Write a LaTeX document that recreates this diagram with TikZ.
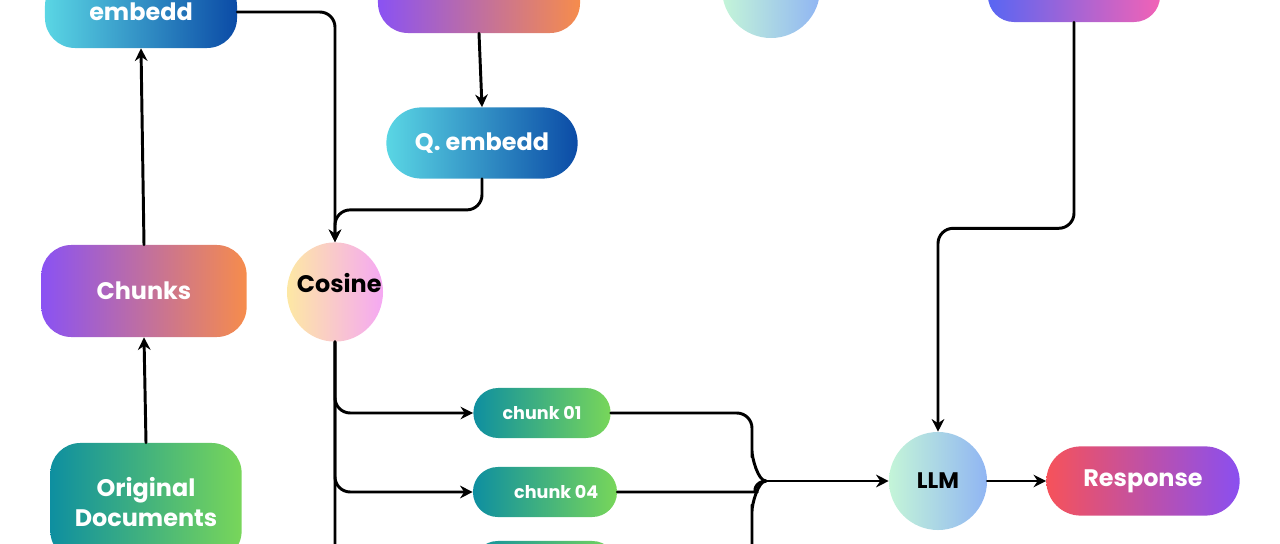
\documentclass[tikz,border=0pt]{standalone}
\usepackage{fontspec}
\setmainfont{Poppins}
\usetikzlibrary{arrows.meta,shapes.geometric}
\definecolor{cyanL}{HTML}{5AD6E4}
\definecolor{blueD}{HTML}{0B4BA6}
\definecolor{purL}{HTML}{8A52F3}
\definecolor{orgR}{HTML}{F68C4C}
\definecolor{tealL}{HTML}{0E8FA0}
\definecolor{grnR}{HTML}{78D65A}
\definecolor{yelL}{HTML}{FDE8A4}
\definecolor{pinkR}{HTML}{F5A8F3}
\definecolor{mintL}{HTML}{C4F5D8}
\definecolor{skyR}{HTML}{90B5F3}
\definecolor{redL}{HTML}{F6525A}
\definecolor{vioR}{HTML}{8A4FF0}
\definecolor{indL}{HTML}{5866F3}
\definecolor{magR}{HTML}{F262B6}
\begin{document}
\begin{tikzpicture}[x=0.025cm, y=-0.025cm, line join=round, line cap=round, >={Stealth[length=9pt,width=9pt,inset=3pt]},
    box/.style={rectangle, rounded corners=0.75cm, text=white, align=center, inner sep=0pt, font=\bfseries\fontsize{17}{22}\selectfont},
    chk/.style={box, rounded corners=0.62cm, minimum height=1.25cm, left color=tealL, right color=grnR, font=\bfseries\fontsize{12.5}{15}\selectfont},
    ell/.style={ellipse, inner sep=0pt, font=\bfseries\fontsize{17}{20}\selectfont},
    blu/.style={left color=cyanL, right color=blueD},
    pur/.style={left color=purL, right color=orgR},
    grn/.style={left color=tealL, right color=grnR},
    mnt/.style={left color=mintL, right color=skyR},
    line/.style={line width=2.1pt, rounded corners=0.38cm},
    conn/.style={line, ->}]
    \useasboundingbox (0,0) rectangle (1280,544);
    \node[box, blu, minimum width=4.8cm, minimum height=1.8cm] (emb) at (141,12) {embedd};
    \node[box, pur, minimum width=5.05cm, minimum height=2cm] (qsrc) at (479,-7) {};
    \node[ell, mnt, minimum width=2.45cm, minimum height=2.45cm] (vec) at (771,-11) {};
    \node[box, left color=indL, right color=magR, minimum width=4.3cm, minimum height=2cm, rounded corners=0.65cm] (qry) at (1074,-18) {};
    \node[box, blu, minimum width=4.78cm, minimum height=1.78cm, rounded corners=0.88cm] (qemb) at (482,143) {Q. embedd};
    \node[box, pur, minimum width=5.13cm, minimum height=2.3cm] (chunks) at (144,291) {Chunks};
    \node[box, grn, minimum width=4.78cm, minimum height=2.95cm] (orig) at (146,502) {Original\\Documents};
    \node[ell, left color=yelL, right color=pinkR, minimum width=2.4cm, minimum height=2.48cm] (cos) at (335,292)
        {\makebox[0pt]{\hspace{6pt}\raisebox{0pt}[0pt][0pt]{Cosine}}};
    \node[ell, mnt, minimum width=2.45cm, minimum height=2.45cm, font=\bfseries\fontsize{16}{20}\selectfont] (llm) at (938,481) {LLM};
    \node[box, left color=redL, right color=vioR, minimum width=4.83cm, minimum height=1.73cm, rounded corners=0.86cm] (resp) at (1143,481) {Response};
    \node[chk, minimum width=3.43cm] (c1) at (542,413) {chunk 01};
    \node[chk, minimum width=3.6cm] (c4) at (545,492) {\hspace{16pt}chunk 04};
    \node[chk, minimum width=3.6cm] (c3) at (545,566) {};
    \coordinate (bus) at (766,481);
    \draw[conn] (orig.north) -- (chunks.south);
    \draw[conn] (chunks.north) -- (emb.south);
    \draw[conn] (emb.east) -| (cos.north);
    \draw[conn] (qsrc.south) -- (qemb.north);
    \draw[conn] (qemb.south) -- ++(0,31) -| (cos.north);
    \draw[conn] (cos.south) |- (c1.west);
    \draw[conn] (cos.south) |- (c4.west);
    \draw[conn] (cos.south) |- (c3.west);
    \draw[line] (c1.east) -| (752,466) to[out=90,in=180] (bus);
    \draw[line] (c4.east) -- (742,492) to[out=0,in=180] (bus);
    \draw[line] (c3.east) -| (752,496) to[out=-90,in=180] (bus);
    \draw[conn] (bus) -- (llm.west);
    \draw[conn] (llm.east) -- (resp.west);
    \draw[conn] (qry.south) -- ++(0,206) -| (llm.north);
\end{tikzpicture}
\end{document}
